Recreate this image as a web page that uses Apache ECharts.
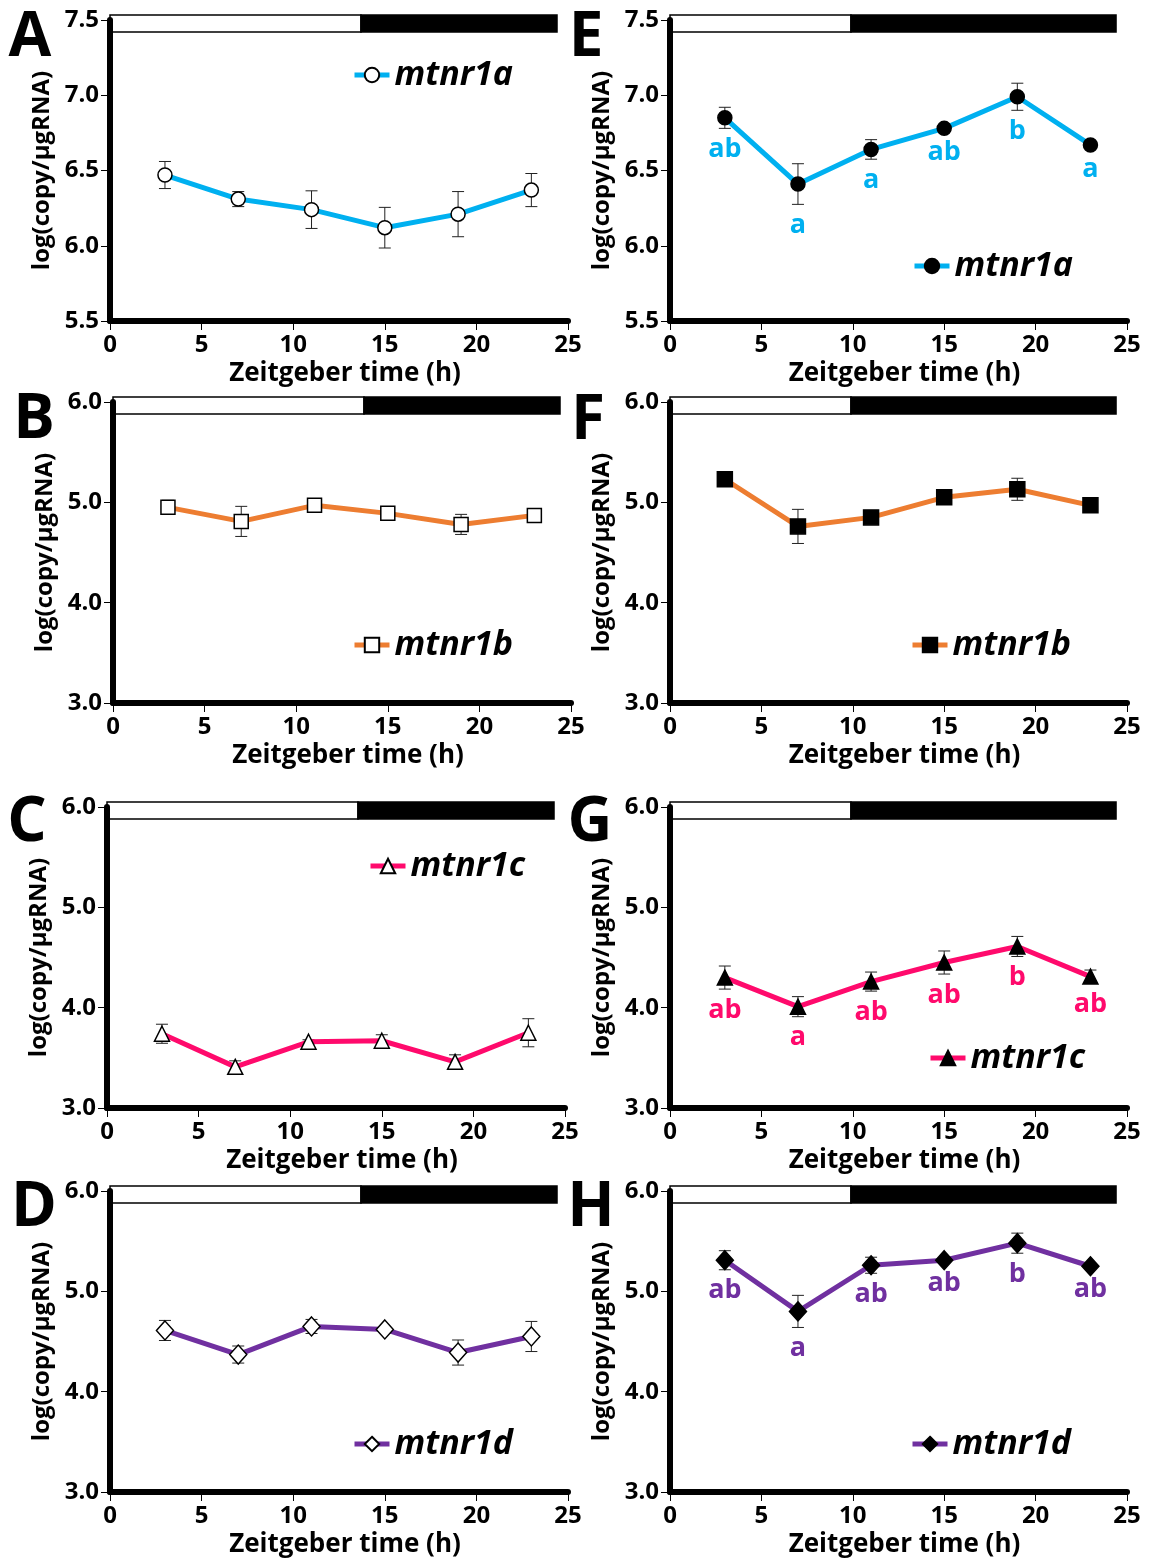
<!DOCTYPE html>
<html>
<head>
<meta charset="utf-8">
<script src="https://cdn.jsdelivr.net/npm/echarts@6/dist/echarts.min.js"></script>
<style>
  html, body { margin: 0; padding: 0; background: #fff; }
  #chart { width: 1151px; height: 1562px; }
</style>
</head>
<body>
<div id="chart"></div>
<script>
// sampling times (Zeitgeber time, h)
var zt = [3, 7, 11, 15, 19, 23];

// light / dark bar: [start, end of light, end of dark]
var photoLeft = [0, 13.7, 24.4];
var photoRight = [0, 9.9, 24.4];

// A-D (left column)
var mtnr1aL = [6.47, 6.31, 6.24, 6.12, 6.21, 6.37];
var mtnr1aLErr = [0.09, 0.05, 0.125, 0.135, 0.15, 0.11];
var mtnr1bL = [4.95, 4.81, 4.97, 4.89, 4.78, 4.87];
var mtnr1bLErr = [0.07, 0.15, 0.03, 0.03, 0.1, 0.06];
var mtnr1cL = [3.74, 3.41, 3.66, 3.67, 3.46, 3.75];
var mtnr1cLErr = [0.095, 0.06, 0.02, 0.06, 0.07, 0.14];
var mtnr1dL = [4.61, 4.37, 4.65, 4.62, 4.39, 4.55];
var mtnr1dLErr = [0.1, 0.085, 0.07, 0.02, 0.125, 0.15];

// E-H (right column)
var mtnr1aR = [6.85, 6.41, 6.64, 6.78, 6.99, 6.67];
var mtnr1aRErr = [0.07, 0.135, 0.065, 0.02, 0.09, 0.02];
var mtnr1aRSig = ['ab', 'a', 'a', 'ab', 'b', 'a'];
var mtnr1bR = [5.23, 4.76, 4.85, 5.05, 5.13, 4.97];
var mtnr1bRErr = [0.02, 0.17, 0.03, 0.02, 0.11, 0.02];
var mtnr1cR = [4.30, 4.01, 4.26, 4.45, 4.61, 4.31];
var mtnr1cRErr = [0.115, 0.1, 0.095, 0.115, 0.1, 0.065];
var mtnr1cRSig = ['ab', 'a', 'ab', 'ab', 'b', 'ab'];
var mtnr1dR = [5.31, 4.80, 5.26, 5.31, 5.48, 5.25];
var mtnr1dRErr = [0.095, 0.16, 0.08, 0.02, 0.1, 0.02];
var mtnr1dRSig = ['ab', 'a', 'ab', 'ab', 'b', 'ab'];

// y ranges per row
var yMin = [5.5, 3, 3, 3];
var yMax = [7.5, 6, 6, 6];
var yStep = [0.5, 1, 1, 1];

var FONT = '"Open Sans", "Noto Sans", sans-serif';
var BLUE = '#00b0f0', ORANGE = '#ed7d31', PINK = '#ff0a6c', PURPLE = '#7030a0';

// ------------------------------
// panel layout
// ------------------------------
var rowTop = [20, 402, 807, 1191];
var leftX = [110, 113, 107, 110];

var panels = [
    {id: 'A', row: 0, col: 0, gene: 'mtnr1a', val: mtnr1aL, err: mtnr1aLErr, color: BLUE, symbol: 'circle', size: 14, fill: '#fff', photo: photoLeft, leg: [352, 58], tag: [30, 38]},
    {id: 'B', row: 1, col: 0, gene: 'mtnr1b', val: mtnr1bL, err: mtnr1bLErr, color: ORANGE, symbol: 'rect', size: 14, fill: '#fff', photo: photoLeft, leg: [352, 628], tag: [34, 420]},
    {id: 'C', row: 2, col: 0, gene: 'mtnr1c', val: mtnr1cL, err: mtnr1cLErr, color: PINK, symbol: 'triangle', size: 15, fill: '#fff', photo: photoLeft, leg: [368, 849], tag: [27, 823]},
    {id: 'D', row: 3, col: 0, gene: 'mtnr1d', val: mtnr1dL, err: mtnr1dLErr, color: PURPLE, symbol: 'diamond', size: [17, 19], fill: '#fff', photo: photoLeft, leg: [352, 1427], tag: [34, 1208]},
    {id: 'E', row: 0, col: 1, gene: 'mtnr1a', val: mtnr1aR, err: mtnr1aRErr, sig: mtnr1aRSig, color: BLUE, symbol: 'circle', size: 14, fill: '#000', photo: photoRight, leg: [912, 249], tag: [586, 38]},
    {id: 'F', row: 1, col: 1, gene: 'mtnr1b', val: mtnr1bR, err: mtnr1bRErr, color: ORANGE, symbol: 'rect', size: 15, fill: '#000', photo: photoRight, leg: [910, 628], tag: [588, 421]},
    {id: 'G', row: 2, col: 1, gene: 'mtnr1c', val: mtnr1cR, err: mtnr1cRErr, sig: mtnr1cRSig, color: PINK, symbol: 'triangle', size: 15, fill: '#000', photo: photoRight, leg: [928, 1041], tag: [590, 823]},
    {id: 'H', row: 3, col: 1, gene: 'mtnr1d', val: mtnr1dR, err: mtnr1dRErr, sig: mtnr1dRSig, color: PURPLE, symbol: 'diamond', size: [17, 19], fill: '#000', photo: photoRight, leg: [910, 1427], tag: [591, 1208]}
];

// error bars with caps
function renderErr(params, api) {
    var x = api.value(0), y = api.value(1), e = api.value(2);
    var hi = api.coord([x, y + e]);
    var lo = api.coord([x, y - e]);
    var w = 6;
    var st = {stroke: '#222', lineWidth: 1};
    return {
        type: 'group',
        children: [
            {type: 'line', shape: {x1: hi[0], y1: hi[1], x2: lo[0], y2: lo[1]}, style: st},
            {type: 'line', shape: {x1: hi[0] - w, y1: hi[1], x2: hi[0] + w, y2: hi[1]}, style: st},
            {type: 'line', shape: {x1: lo[0] - w, y1: lo[1], x2: lo[0] + w, y2: lo[1]}, style: st}
        ]
    };
}

// significance letters under each error bar
function letterRenderer(sig, color) {
    return function(params, api) {
        var p = api.coord([api.value(0), api.value(1) - api.value(2)]);
        return {
            type: 'text', x: p[0], y: p[1] + 21,
            style: {text: sig[params.dataIndex], fill: color, font: 'bold 27px ' + FONT, textAlign: 'center', textVerticalAlign: 'middle'}
        };
    };
}

// light/dark bar along the top of each panel
function photoRenderer(top) {
    return function(params, api) {
        var a = api.coord([api.value(0), top]);
        var b = api.coord([api.value(1), top]);
        var dark = params.dataIndex === 1;
        return {
            type: 'rect',
            shape: {x: a[0], y: a[1] - 5, width: b[0] - a[0], height: 17},
            style: {fill: dark ? '#000' : '#fff', stroke: '#000', lineWidth: 1.5}
        };
    };
}

var grid = [], xAxis = [], yAxis = [], series = [], legend = [], graphic = [];

panels.forEach(function(p, i) {
    var r = p.row;
    grid.push({
        left: p.col === 0 ? leftX[r] : 670,
        top: rowTop[r],
        width: p.col === 0 ? 458 : 457,
        height: 301
    });
    xAxis.push({
        type: 'value', gridIndex: i, min: 0, max: 25, interval: 5,
        name: 'Zeitgeber time (h)', nameLocation: 'middle', nameGap: 40,
        nameTextStyle: {fontSize: 26, fontWeight: 'bold', color: '#000', fontFamily: FONT, padding: [0, 0, 0, 12]},
        axisLine: {show: true, onZero: false, lineStyle: {color: '#000', width: 6}},
        axisTick: {show: true, length: 9, lineStyle: {color: '#000', width: 1}},
        axisLabel: {fontSize: 24, fontWeight: 'bold', color: '#000', fontFamily: FONT, margin: 12},
        splitLine: {show: false}
    });
    yAxis.push({
        type: 'value', gridIndex: i, min: yMin[r], max: yMax[r], interval: yStep[r],
        name: 'log(copy/\u03bcgRNA)', nameLocation: 'middle', nameGap: 56,
        nameTextStyle: {fontSize: 24, fontWeight: 'bold', color: '#000', fontFamily: FONT},
        axisLine: {show: true, onZero: false, lineStyle: {color: '#000', width: 6}},
        axisTick: {show: true, length: 9, lineStyle: {color: '#000', width: 1}},
        axisLabel: {fontSize: 24, fontWeight: 'bold', color: '#000', fontFamily: FONT, margin: 11,
            formatter: function(v) { return v.toFixed(1); }},
        splitLine: {show: false}
    });

    // light/dark bar
    series.push({
        type: 'custom', xAxisIndex: i, yAxisIndex: i, z: -1, silent: true,
        renderItem: photoRenderer(yMax[r]),
        data: [[p.photo[0], p.photo[1]], [p.photo[1], p.photo[2]]],
        encode: {x: [0, 1]}
    });

    var errData = zt.map(function(t, k) { return [t, p.val[k], p.err[k]]; });
    series.push({
        type: 'custom', xAxisIndex: i, yAxisIndex: i, z: 2, silent: true,
        renderItem: renderErr, data: errData, encode: {x: 0, y: 1}
    });

    var name = p.gene + ' ' + p.id;
    series.push({
        name: name, type: 'line', xAxisIndex: i, yAxisIndex: i, z: 3,
        data: zt.map(function(t, k) { return [t, p.val[k]]; }),
        symbol: p.symbol, symbolSize: p.size, showSymbol: true,
        lineStyle: {color: p.color, width: 5},
        itemStyle: {color: p.fill, borderColor: '#000', borderWidth: 1.5}
    });

    if (p.sig) {
        series.push({
            type: 'custom', xAxisIndex: i, yAxisIndex: i, z: 4, silent: true,
            renderItem: letterRenderer(p.sig, p.color), data: errData, encode: {x: 0, y: 1}
        });
    }

    legend.push({
        data: [name], left: p.leg[0], top: p.leg[1], padding: 0,
        itemWidth: 35, itemHeight: 18, selectedMode: false,
        lineStyle: {width: 5, color: p.color},
        textStyle: {fontSize: 34, fontWeight: 'bold', fontStyle: 'italic', color: '#000', fontFamily: FONT},
        formatter: function(n) { return n.split(' ')[0]; }
    });

    graphic.push({
        type: 'text', x: p.tag[0], y: p.tag[1],
        style: {text: p.id, font: 'bold 62px ' + FONT, fill: '#000', textAlign: 'center', textVerticalAlign: 'middle'}
    });
});

var chart = echarts.init(document.getElementById('chart'));
chart.setOption({
    animation: false,
    backgroundColor: '#fff',
    grid: grid,
    xAxis: xAxis,
    yAxis: yAxis,
    legend: legend,
    graphic: graphic,
    series: series
});
</script>
</body>
</html>
